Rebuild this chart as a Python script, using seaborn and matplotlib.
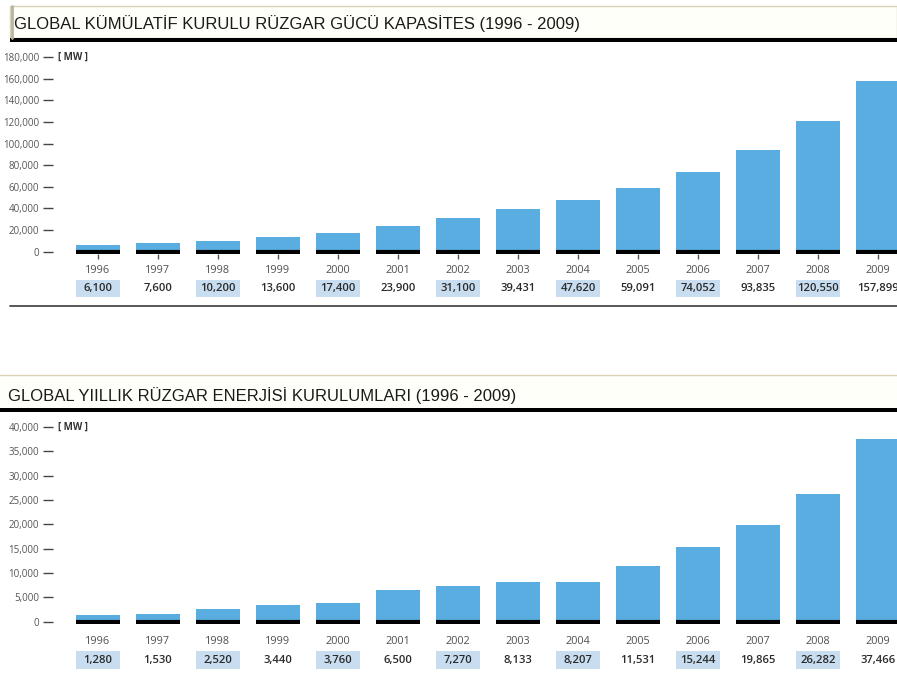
import matplotlib
matplotlib.use("Agg")
import matplotlib.pyplot as plt
import seaborn as sns
from matplotlib.patches import Rectangle
from matplotlib.lines import Line2D
import matplotlib.transforms as mtransforms

# ---------------- data ----------------
years = ["1996", "1997", "1998", "1999", "2000", "2001", "2002",
         "2003", "2004", "2005", "2006", "2007", "2008", "2009"]
cumulative_mw = [6100, 7600, 10200, 13600, 17400, 23900, 31100,
                 39431, 47620, 59091, 74052, 93835, 120550, 157899]
annual_mw = [1280, 1530, 2520, 3440, 3760, 6500, 7270,
             8133, 8207, 11531, 15244, 19865, 26282, 37466]
top_title = "GLOBAL KÜMÜLATİF KURULU RÜZGAR GÜCÜ KAPASİTES (1996 - 2009)"
bottom_title = "GLOBAL YIILLIK RÜZGAR ENERJİSİ KURULUMLARI (1996 - 2009)"
top_yticks = list(range(0, 180001, 20000))
bottom_yticks = list(range(0, 40001, 5000))
unit_label = "[ MW ]"

# ---------------- style ----------------
sns.set_theme(style="white")
plt.rcParams["font.family"] = ["Open Sans", "DejaVu Sans"]

W, H = 897, 673
BAR = "#5aade0"
HILITE = "#c8ddef"
BAR_W = 0.733

fig = plt.figure(figsize=(W / 100, H / 100), dpi=100)
fig.patch.set_facecolor("white")


def fx(px):
    return px / W


def fy(py):
    return 1 - py / H


def panel(values, yticks, top_px, bot_px, zero_px, top_val_px, top_val,
          xticks_len, year_off_px, val_off_px, box_top_px, box_bot_px):
    left_px, right_px = 53, 897
    ax = fig.add_axes([fx(left_px), fy(bot_px), (right_px - left_px) / W,
                       (bot_px - top_px) / H])
    ppu = (zero_px - top_val_px) / top_val  # pixels per MW
    sns.barplot(x=years, y=values, color=BAR, saturation=1, width=BAR_W,
                ax=ax, linewidth=0, edgecolor="none")
    n = len(years)
    # black base strips under each bar
    for i in range(n):
        ax.hlines(0, i - BAR_W / 2, i + BAR_W / 2, color="black", lw=3,
                  capstyle="butt", zorder=3)
    spacing = 60.0
    ax.set_xlim((left_px - 98) / spacing, (n - 1) + (right_px - 878) / spacing)
    ax.set_ylim(-(bot_px - zero_px) / ppu, (zero_px - top_px) / ppu)
    for s in ax.spines.values():
        s.set_visible(False)
    ax.set_xlabel("")
    ax.set_ylabel("")
    ax.set_yticks(yticks)
    ax.set_yticklabels([f"{v:,}" for v in yticks])
    ax.tick_params(axis="y", direction="out", length=7.5, width=1.0,
                   color="#444444", pad=2.5, labelsize=7, labelcolor="#555555",
                   left=True)
    ax.tick_params(axis="x", direction="out", length=xticks_len, width=1.0,
                   color="#555555", labelbottom=False, bottom=xticks_len > 0)
    ax.set_facecolor("white")
    ax.grid(False)
    # highlighted value boxes
    box_bottom = -(box_bot_px - zero_px) / ppu
    box_h = (box_bot_px - box_top_px) / ppu
    for i in range(0, n, 2):
        ax.add_patch(Rectangle((i - BAR_W / 2, box_bottom), BAR_W, box_h,
                               facecolor=HILITE, edgecolor="none",
                               clip_on=False, zorder=1))
    for i, (yr, v) in enumerate(zip(years, values)):
        ax.annotate(yr, xy=(i, 0), xytext=(0, -year_off_px * 0.72),
                    textcoords="offset points", ha="center", va="center",
                    fontsize=7.8, color="#505050", annotation_clip=False)
        ax.annotate(f"{v:,}", xy=(i, 0), xytext=(0, -val_off_px * 0.72),
                    textcoords="offset points", ha="center", va="center",
                    fontsize=8.1, color="#2a2a2a", fontweight="semibold",
                    annotation_clip=False, zorder=4)
    trans = mtransforms.blended_transform_factory(ax.transAxes, ax.transData)
    ax.text(5 / (right_px - left_px), yticks[-1], unit_label, transform=trans,
            ha="left", va="center", fontsize=7, fontweight="bold",
            color="#333333")
    return ax


# ---------------- top panel ----------------
panel(cumulative_mw, top_yticks, top_px=46, bot_px=254, zero_px=251.7,
      top_val_px=57, top_val=180000, xticks_len=3.5,
      year_off_px=18.5, val_off_px=36.5, box_top_px=279.5, box_bot_px=296.5)

# ---------------- bottom panel ----------------
panel(annual_mw, bottom_yticks, top_px=418, bot_px=624, zero_px=621.7,
      top_val_px=427, top_val=40000, xticks_len=0,
      year_off_px=19.3, val_off_px=38.8, box_top_px=651, box_bot_px=669)


# ---------------- title boxes ----------------
def title_box(x0, top_px, black_px, text, text_x, baseline_px, left_border):
    fig.patches.append(Rectangle((fx(x0), fy(black_px)), (W - x0) / W,
                                 (black_px - top_px) / H,
                                 transform=fig.transFigure,
                                 facecolor="#fffffa",
                                 edgecolor="#d9d3b4" if left_border else "none",
                                 lw=1.0, zorder=0))
    if left_border:
        fig.lines.append(Line2D([fx(x0 + 1.5), fx(x0 + 1.5)],
                                [fy(top_px), fy(black_px)],
                                transform=fig.transFigure, color="#b9b4a0",
                                lw=2.0))
    else:
        fig.lines.append(Line2D([fx(x0), fx(W)], [fy(top_px), fy(top_px)],
                                transform=fig.transFigure, color="#d9d3b4",
                                lw=1.0))
    fig.patches.append(Rectangle((fx(x0), fy(black_px + 4)), (W - x0) / W,
                                 4 / H, transform=fig.transFigure,
                                 facecolor="black", edgecolor="none"))
    fig.text(fx(text_x), fy(baseline_px), text, family=["Liberation Sans",
             "DejaVu Sans"], fontsize=12, color="#1a1a1a", ha="left",
             va="baseline")


title_box(10, 6, 38, top_title, 14, 29, True)
title_box(0, 375, 408, bottom_title, 8, 401, False)

# separator under the top panel
fig.lines.append(Line2D([fx(10), fx(W)], [fy(306.5), fy(306.5)],
                        transform=fig.transFigure, color="#4a4a4a", lw=1.3))

fig.savefig("out.png", dpi=100, facecolor="white")
